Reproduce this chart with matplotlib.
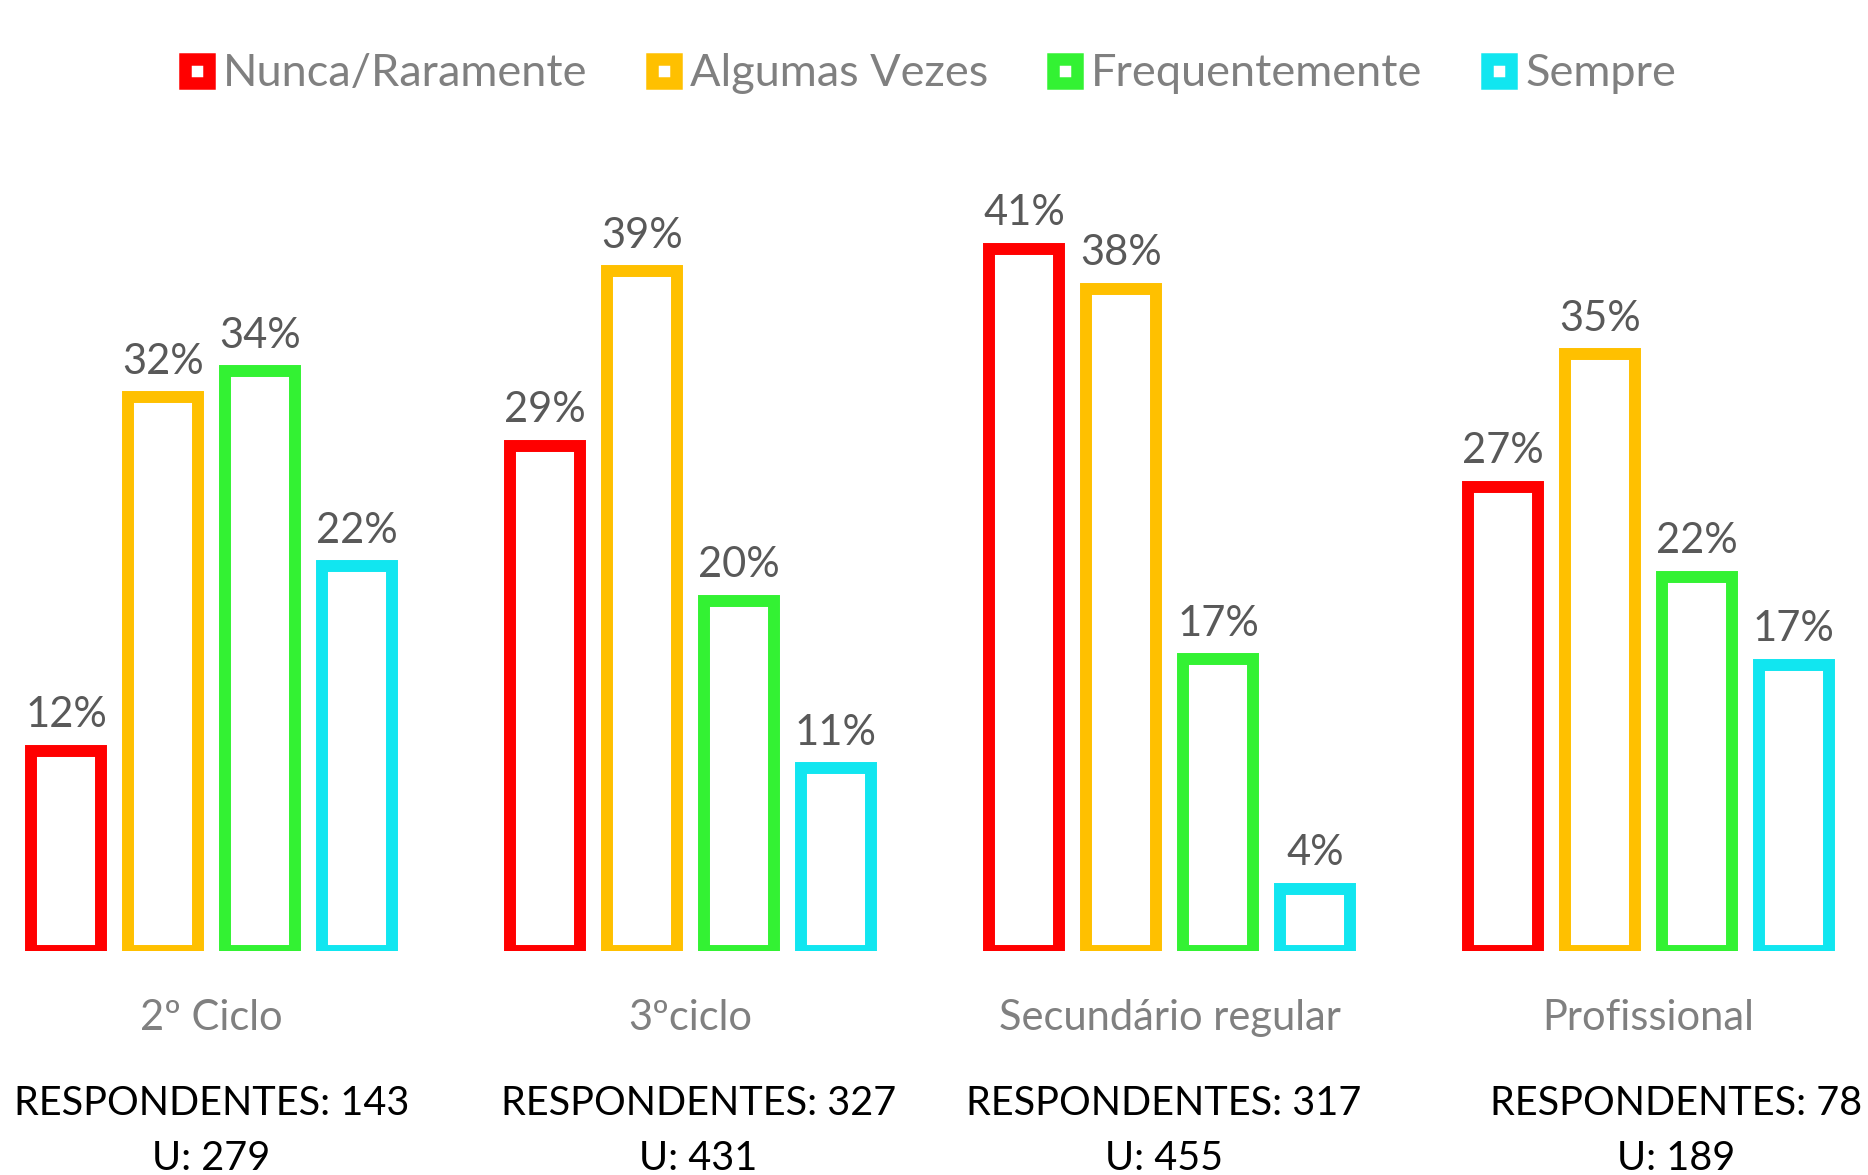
import matplotlib
matplotlib.use("Agg")
import matplotlib.pyplot as plt
import matplotlib.transforms as mtransforms
from matplotlib.lines import Line2D
import numpy as np

plt.rcParams['font.family'] = ['Lato', 'DejaVu Sans']

categories = ["2º Ciclo", "3ºciclo", "Secundário regular", "Profissional"]
series_names = ["Nunca/Raramente", "Algumas Vezes", "Frequentemente", "Sempre"]
# bar heights (%); labels shown rounded
nunca = [11.6, 29.3, 40.7, 26.9]
algumas = [32.1, 39.4, 38.4, 34.6]
frequente = [33.6, 20.3, 16.9, 21.7]
sempre = [22.3, 10.6, 3.6, 16.6]
respondentes = [143, 327, 317, 78]
universo = [279, 431, 455, 189]
colors = ["#FF0000", "#FFC000", "#33F233", "#11E6F0"]

series = [nunca, algumas, frequente, sempre]

W, H = 1868, 1175
fig = plt.figure(figsize=(W / 100, H / 100), dpi=100)

base_px = 951           # baseline (from top)
px_per_pct = 17.25
ymax = 45
ax_h = ymax * px_per_pct
ax = fig.add_axes([0, (H - base_px) / H, 1, ax_h / H])

grp_px = 479.0
g0_px = 211.5
ax.set_xlim(-g0_px / grp_px, (W - g0_px) / grp_px)
ax.set_ylim(0, ymax)

bw = 1 / 4.94
x = np.arange(len(categories))
for i, (vals, col) in enumerate(zip(series, colors)):
    xs = x + (i - 1.5) * bw
    ax.bar(xs, vals, width=bw * 0.72, facecolor="white", edgecolor=col,
           linewidth=8.6, joinstyle="miter")
    for xi, v in zip(xs, vals):
        ax.annotate(f"{round(v)}%", (xi, v), xytext=(0, 17), textcoords="offset points",
                    ha="center", va="baseline", fontsize=30, color="#595959")

ax.axis("off")

tr = mtransforms.blended_transform_factory(ax.transData, fig.transFigure)

# category labels
for xi, c in zip(x, categories):
    ax.text(xi, (H - 1030) / H, c, transform=tr,
            ha="center", va="baseline", fontsize=30, color="#808080")

# respondents text (text boxes slightly offset from group centres)
resp_offsets = [0.0, 0.016, -0.012, 0.057]
for xi, off, r, u in zip(x, resp_offsets, respondentes, universo):
    ax.text(xi + off, (H - 1115) / H, f"RESPONDENTES: {r}", transform=tr,
            ha="center", va="baseline", fontsize=28.5, color="black")
    ax.text(xi + off, (H - 1170) / H, f"U: {u}", transform=tr,
            ha="center", va="baseline", fontsize=28.5, color="black")

handles = [Line2D([], [], linestyle="none", marker="s", markersize=17.6,
                  markerfacecolor="white", markeredgecolor=c, markeredgewidth=9)
           for c in colors]
fig.legend(handles, series_names, loc="center", bbox_to_anchor=(0.4965, 1 - 74 / H),
           ncol=4, frameon=False, fontsize=32.5, labelcolor="#808080",
           handlelength=0.8, handletextpad=0.18, columnspacing=1.3)

fig.savefig("out.png", dpi=100)
